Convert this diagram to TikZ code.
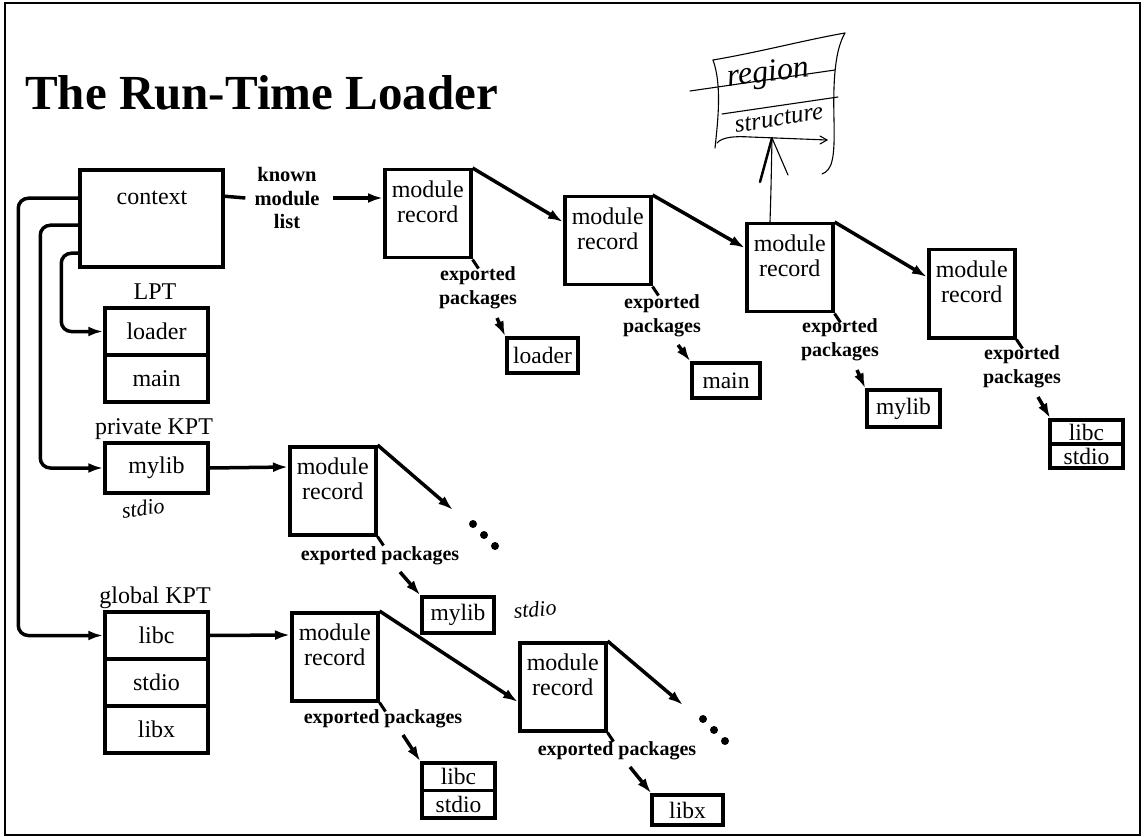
\documentclass[tikz,border=0pt]{standalone}
\usepackage{fontspec}
\setmainfont{Liberation Serif}
\usetikzlibrary{arrows.meta,calc}
\begin{document}
\begin{tikzpicture}[x=1pt,y=-1pt,
  box/.style={draw, line width=3.5pt, inner sep=0pt},
  txt/.style={font=\fontsize{24}{25}\selectfont, inner sep=0pt, align=center},
  lbl/.style={font=\bfseries\fontsize{20}{24}\selectfont, inner sep=0pt, align=center},
  rowbox/.style={box, font=\fontsize{24}{25}\selectfont, minimum width=103pt, minimum height=47pt},
  sbox/.style={box, font=\fontsize{23.5}{25}\selectfont, minimum width=72pt, minimum height=35pt},
  mrbox/.style={box, minimum width=86pt, minimum height=88pt, anchor=north west},
  arr/.style={line width=3.5pt, -{Latex[length=15pt,width=10pt]}},
  link/.style={line width=3.5pt},
  tick/.style={line width=3pt},
  dot/.style={circle, fill=black, inner sep=0pt, minimum size=8pt},
  hand/.style={line width=1.1pt, line cap=round, line join=round},
  handtxt/.style={font=\itshape, inner sep=0pt}
]
\useasboundingbox (0,0) rectangle (1144,837);
\fill[white] (0,0) rectangle (1144,837);
\draw[line width=2pt] (5,3) rectangle (1140,835);

% title
\node[anchor=base west, inner sep=0pt, font=\bfseries\fontsize{49}{55}\selectfont] (title) at (25,110) {The Run-Time Loader};

% context
\node[box, minimum width=143pt, minimum height=97pt] (ctx) at (151.5,218.5) {};
\node[txt] (ctxt) at (152,198) {context};
\node[lbl, font=\bfseries\fontsize{20.5}{23.5}\selectfont] (kml) at (287,198) {known\\module\\list};

% LPT
\node[txt] (lptl) at (155,292) {LPT};
\node[rowbox] (lptA) at (156.5,331.5) {loader};
\node[rowbox] (lptB) at (156.5,378.5) {main};

% private KPT
\node[txt] (pkl) at (154,429) {private KPT};
\node[rowbox, minimum height=50pt] (pmylib) at (156.5,468) {mylib};

% global KPT
\node[txt] (gkl) at (155,598) {global KPT};
\node[rowbox] (glA) at (156.5,635.5) {libc};
\node[rowbox] (glB) at (156.5,682.5) {stdio};
\node[rowbox] (glC) at (156.5,729.5) {libx};

% module records
\foreach \n/\x/\y in {1/383/168, 2/563/195, 3/745/222, 4/927/248, 5/288/445, 6/290/611, 7/518/641}{
  \node[mrbox] (mr\n) at (\x,\y) {};
  \node[txt] (mr\n t) at ($(mr\n.north)+(0,34)$) {module\\record};
}

% exported packages labels
\node[lbl] (ep1) at (478,288) {exported\\packages};
\node[lbl] (ep2) at (662,316) {exported\\packages};
\node[lbl] (ep3) at (840,340) {exported\\packages};
\node[lbl] (ep4) at (1022,367) {exported\\packages};
\node[lbl] (ep5) at (380,556) {exported packages};
\node[lbl] (ep6) at (383,719) {exported packages};
\node[lbl] (ep7) at (617,751) {exported packages};

% package boxes
\node[sbox, minimum width=71pt] (l1) at (542.5,355.5) {loader};
\node[sbox, minimum width=68pt] (l2) at (726,380.5) {main};
\node[sbox, minimum width=73pt, minimum height=37pt] (l3) at (903.5,408.5) {mylib};
\node[sbox, minimum width=73pt, minimum height=24pt] (l4a) at (1086.5,432) {libc};
\node[sbox, minimum width=73pt, minimum height=24pt] (l4b) at (1086.5,456) {stdio};
\node[sbox, minimum width=72pt, minimum height=36pt] (l5) at (458,615) {mylib};
\node[sbox, minimum width=73pt, minimum height=27.5pt] (l6a) at (458.5,776.75) {libc};
\node[sbox, minimum width=73pt, minimum height=27.5pt] (l6b) at (458.5,804.25) {stdio};
\node[sbox, minimum width=71pt, minimum height=30pt] (l7) at (687.5,810) {libx};

% dots and free ends
\coordinate (e5) at (453,510);
\coordinate (e7) at (683,705);
\node[dot] (d5a) at (473,524) {};
\node[dot] (d5b) at (484,535) {};
\node[dot] (d5c) at (495,546) {};
\node[dot] (d7a) at (703,719) {};
\node[dot] (d7b) at (714,730) {};
\node[dot] (d7c) at (725,741) {};

% context connectors
\draw[link] ($(ctx.north east)+(0,28)$) -- ($(kml.west)+(-9,0)$);
\draw[arr] ($(kml.east)+(13,0)$) -- ($(mr1.north west)+(0,30)$);
\draw[arr, rounded corners=10pt] ($(ctx.north west)+(0,30)$) -- ++(-60,0) |- (glA.west);
\draw[arr, rounded corners=10pt] ($(ctx.north west)+(0,57)$) -- ++(-38,0) |- (pmylib.west);
\draw[arr, rounded corners=10pt] ($(ctx.north west)+(0,85)$) -- ++(-17,0) |- (lptA.west);

% table to module record
\draw[arr] (pmylib.east) -- ($(mr5.north west)+(0,22)$);
\draw[arr] (glA.east) -- ($(mr6.north west)+(0,24)$);

% module record chains
\draw[arr] (mr1.north east) -- ($(mr2.north west)+(0,27)$);
\draw[arr] (mr2.north east) -- ($(mr3.north west)+(0,26)$);
\draw[arr] (mr3.north east) -- ($(mr4.north west)+(0,29)$);
\draw[arr] (mr5.north east) -- (e5);
\draw[arr] (mr6.north east) -- ($(mr7.north west)+(0,61)$);
\draw[arr] (mr7.north east) -- (e7);

% exported ticks
\foreach \n in {1,...,7}{
  \draw[tick] (mr\n.south east) -- ++(6,9);
}

% exported arrows
\draw[arr] ($(ep1)+(19,30)$) -- (l1.north west);
\draw[arr] ($(ep2)+(16,29)$) -- (l2.north west);
\draw[arr] ($(ep3)+(17,30)$) -- (l3.north west);
\draw[arr] ($(ep4)+(16,30)$) -- ($(l4a.north west)+(2,0)$);
\draw[arr] ($(ep5)+(20,16)$) -- (l5.north west);
\draw[arr] ($(ep6)+(20,16)$) -- (l6a.north west);
\draw[arr] ($(ep7)+(13,16)$) -- ($(l7.north west)+(1,0)$);

% handwritten sheet: region structure
\coordinate (sheet) at (772,138);
\draw[hand] (713,60) .. controls (760,52) and (805,40) .. (845,33);
\draw[hand] (845,33) .. controls (835,50) and (833,80) .. (834,120) .. controls (835,160) and (832,170) .. (822,174);
\draw[hand] (713,60) .. controls (722,85) and (718,120) .. (715,148);
\draw[hand] (717,143) .. controls (722,137) and (735,136) .. (750,137) -- (827,140);
\draw[hand] (820,136) -- (827,140) -- (820,144);
\draw[hand] (690,91) -- (835,70);
\draw[hand] (722,114) -- (838,97);
\node[handtxt, font=\itshape\fontsize{32}{34}\selectfont, rotate=7] (hreg) at (768,74) {region};
\node[handtxt, font=\itshape\fontsize{25}{27}\selectfont, rotate=9] (hstr) at (779,119) {structure};
\draw[hand] ($(mr3.north west)+(25,0)$) .. controls (771,190) .. (sheet);
\draw[hand, line width=2.5pt] (760,182) -- (sheet);
\draw[hand] (sheet) -- (788,175);

% handwritten stdio notes
\node[handtxt, font=\itshape\fontsize{22}{24}\selectfont, rotate=8] (hs1) at (143,508) {stdio};
\node[handtxt, font=\itshape\fontsize{22}{24}\selectfont, rotate=5] (hs2) at (535,609) {stdio};
\end{tikzpicture}
\end{document}
